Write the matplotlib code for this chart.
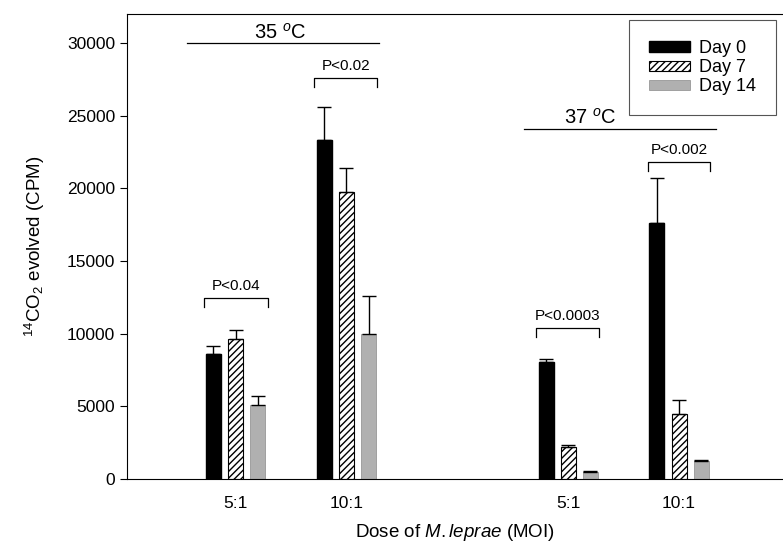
import matplotlib
matplotlib.use("Agg")
import matplotlib.pyplot as plt
import numpy as np

plt.rcParams['font.family'] = ['Liberation Sans', 'DejaVu Sans']
plt.rcParams['mathtext.fontset'] = 'custom'
plt.rcParams['mathtext.rm'] = 'Liberation Sans'
plt.rcParams['mathtext.it'] = 'Liberation Sans:italic'

doses = ["5:1", "10:1", "5:1", "10:1"]
group_pos = [0, 1, 3, 4]
days = ["Day 0", "Day 7", "Day 14"]
day0 = [8620, 23300, 8070, 17590]
day0_err = [550, 2290, 210, 3100]
day7 = [9650, 19720, 2200, 4480]
day7_err = [630, 1660, 140, 970]
day14 = [5100, 10000, 480, 1240]
day14_err = [620, 2620, 70, 70]


def bracket(ax, x0, x1, y, text):
    h = 650
    ax.plot([x0, x0, x1, x1], [y - h, y, y, y - h], color='black', lw=0.9)
    ax.text((x0 + x1) / 2, y + 350, text, ha='center', va='bottom', fontsize=11)


def main():
    fig = plt.figure(figsize=(7.83, 5.54), dpi=100)
    ax = fig.add_axes([0.162, 0.1354, 0.837, 0.8393])
    x = np.array(group_pos, dtype=float)
    w = 0.135
    off = 0.2
    ekw = dict(ecolor='black', capsize=5, elinewidth=1, capthick=1)
    ax.bar(x - off, day0, w, color='black', edgecolor='black',
           yerr=[np.zeros(4), day0_err], error_kw=ekw, label=days[0])
    ax.bar(x, day7, w, color='white', edgecolor='black', hatch='/////',
           linewidth=0.8, yerr=[np.zeros(4), day7_err], error_kw=ekw, label=days[1])
    ax.bar(x + off, day14, w, color='#b0b0b0', edgecolor='#8a8a8a',
           linewidth=0.5, yerr=[np.zeros(4), day14_err], error_kw=ekw, label=days[2])

    ax.set_xlim(-0.98, 4.93)
    ax.set_ylim(0, 32000)
    ax.set_yticks(range(0, 30001, 5000))
    ax.set_xticks(x)
    ax.set_xticklabels(doses)
    ax.tick_params(axis='x', length=0, pad=12, labelsize=12.5)
    ax.tick_params(axis='y', labelsize=12.5, length=5)
    ax.spines['right'].set_visible(False)

    ax.set_ylabel(r"$^{14}$CO$_2$ evolved (CPM)", fontsize=13.5, labelpad=14)
    ax.set_xlabel(r"Dose of $\mathit{M.leprae}$ (MOI)", fontsize=13.5, va='center')
    ax.xaxis.set_label_coords(0.5, -0.116)

    # temperature labels
    ax.plot([-0.44, 1.29], [30000, 30000], color='black', lw=0.9)
    ax.text(0.4, 30050, "35 $^{o}$C", ha='center', va='bottom', fontsize=14.5)
    ax.plot([2.6, 4.33], [24100, 24100], color='black', lw=0.9)
    ax.text(3.2, 24150, "37 $^{o}$C", ha='center', va='bottom', fontsize=14.5)

    bracket(ax, -0.28, 0.29, 12460, "P<0.04")
    bracket(ax, 0.71, 1.28, 27600, "P<0.02")
    bracket(ax, 2.71, 3.28, 10390, "P<0.0003")
    bracket(ax, 3.72, 4.28, 21820, "P<0.002")

    leg = ax.legend(loc='upper right', bbox_to_anchor=(0.991, 0.987), fontsize=13,
                    fancybox=False, edgecolor='#555555', framealpha=1,
                    handlelength=2.3, handleheight=0.5, labelspacing=0.12,
                    borderpad=1.1, handletextpad=0.5, borderaxespad=0)
    leg.get_frame().set_linewidth(0.8)

    fig.savefig("out.png", dpi=100)


if __name__ == '__main__':
    main()
